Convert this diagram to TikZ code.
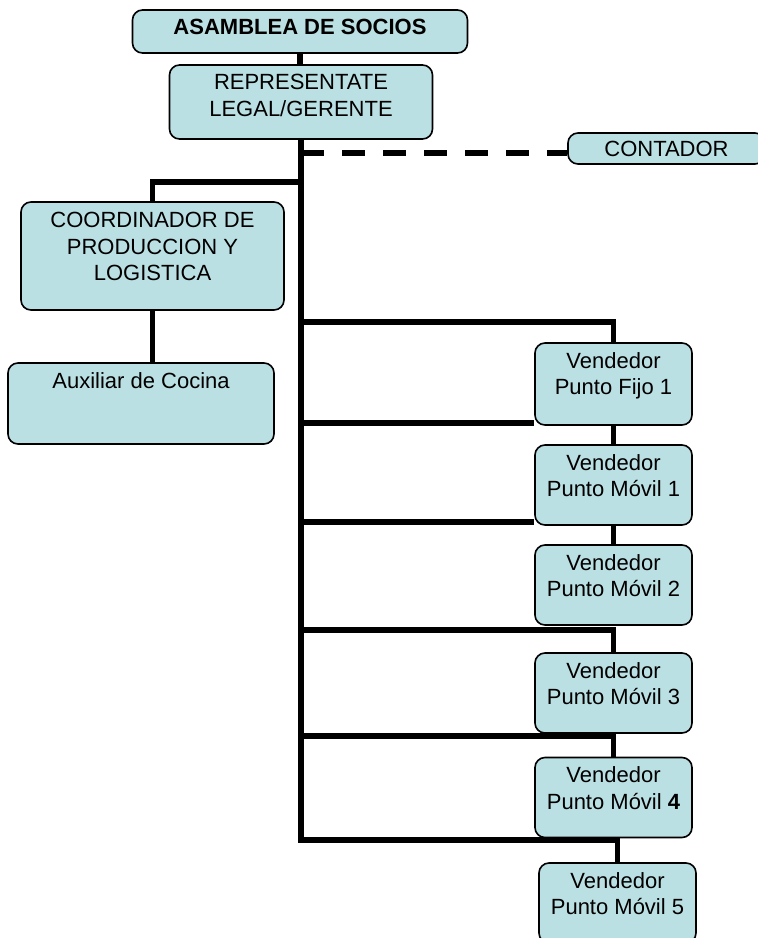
\documentclass[tikz,border=0pt]{standalone}
\usepackage{fontspec}
\setmainfont{Liberation Sans}
\usetikzlibrary{backgrounds}
\definecolor{cajafill}{RGB}{187,224,227}
\def\colx{613.5}

\begin{document}
\begin{tikzpicture}[x=1pt,y=-1pt]
    \tikzstyle{caja}=[draw=black, line width=1.6pt, rounded corners=10pt, fill=cajafill, inner sep=0pt]
    \tikzstyle{vendedor}=[caja, minimum width=157pt, minimum height=80pt]
    \tikzstyle{rotulo}=[anchor=north, yshift=-10pt, inner sep=0pt, align=center, font=\fontsize{22}{26.5}\selectfont]
    \tikzstyle{linea}=[line width=5.5pt]

    \useasboundingbox (0,0) rectangle (758,938);

    % Direccion
    \node[caja, minimum width=335pt, minimum height=43pt,
        label={[rotulo]north:{\bfseries ASAMBLEA DE SOCIOS}}] (asamblea) at (300,31.5) {};
    \node[caja, minimum width=263pt, minimum height=74pt,
        label={[rotulo]north:{REPRESENTATE\\LEGAL/GERENTE}}] (gerente) at (301,102) {};
    \node[caja, minimum width=197pt, minimum height=31pt, font=\fontsize{22}{26.5}\selectfont]
        (contador) at (666.5,148.5) {CONTADOR};

    % Produccion
    \node[caja, minimum width=263pt, minimum height=108pt,
        label={[rotulo, yshift=-1pt]north:{COORDINADOR DE\\PRODUCCION Y\\LOGISTICA}}] (coordinador) at (152.5,256) {};
    \node[caja, minimum width=266pt, minimum height=81pt,
        label={[rotulo]north:{Auxiliar de Cocina}}] (auxiliar) at (141,403.5) {};

    % Vendedores
    \node[vendedor, minimum height=82pt,
        label={[rotulo]north:{Vendedor\\Punto Fijo 1}}] (fijo) at (\colx,384) {};
    \foreach \name / \y / \num in {1/485/1, 2/585/2, 3/693/3, 4/797.5/\textbf{4}}
        \node[vendedor, label={[rotulo]north:{Vendedor\\Punto M\'ovil \num}}] (movil\name) at (\colx,\y) {};
    \node[vendedor, label={[rotulo]north:{Vendedor\\Punto M\'ovil 5}}] (movil5) at (617.5,903) {};

    % Uniones sobre el tronco
    \coordinate (jcont) at (301,153);
    \coordinate (jcoord) at (301,182);
    \coordinate (j1) at (301,322);
    \coordinate (j2) at (301,423);
    \coordinate (j3) at (301,522);
    \coordinate (j4) at (301,630);
    \coordinate (j5) at (301,736);
    \coordinate (jfin) at (301,840);

    \begin{scope}[on background layer]
        \draw[linea] (asamblea.south) -- (asamblea.south |- gerente.north);
        \draw[linea] (gerente.south) -- (jfin) -| (movil5.north);
        \draw[linea, dash pattern=on 23pt off 18pt] (jcont) -- (jcont -| contador.west);
        \draw[linea] (jcoord) -| (coordinador.north);
        \draw[linea] (coordinador.south) -- (coordinador.south |- auxiliar.north);
        \draw[linea] (j1) -| (fijo.north);
        \draw[linea] (j2) -- (j2 -| fijo.west);
        \draw[linea] (fijo.south) -- (movil1.north);
        \draw[linea] (j3) -- (j3 -| movil1.west);
        \draw[linea] (movil1.south) -- (movil2.north);
        \draw[linea] (j4) -| (movil3.north);
        \draw[linea] (j5) -| (movil4.north);
    \end{scope}
\end{tikzpicture}
\end{document}
